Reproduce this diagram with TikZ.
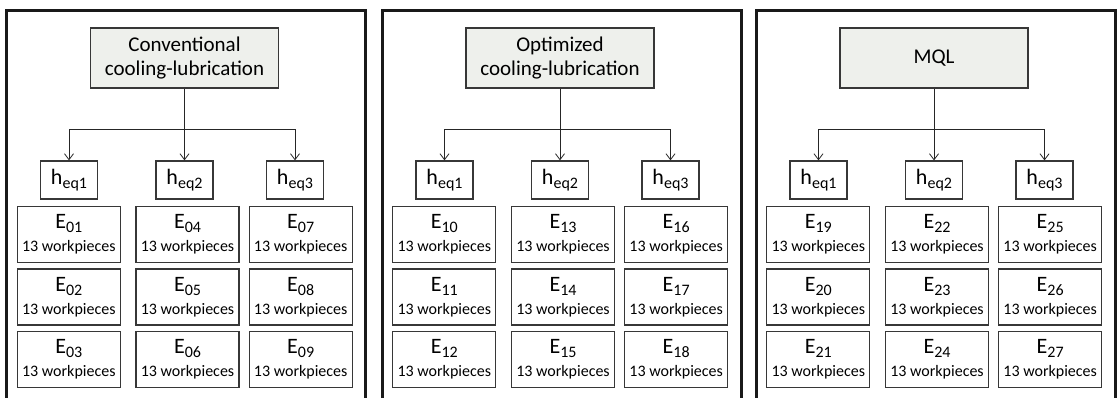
\documentclass[tikz,border=0pt]{standalone}
\usepackage{fontspec}
\setmainfont{Carlito}
\usetikzlibrary{arrows.meta,positioning}
\definecolor{titlefill}{RGB}{238,240,236}
\definecolor{boxline}{RGB}{55,55,55}

\begin{document}
\begin{tikzpicture}[x=1pt,y=-1pt,
  frame/.style={draw=black!90,line width=3pt},
  titlebox/.style={draw=boxline,line width=1.2pt,fill=titlefill,minimum width=188pt,minimum height=60pt,align=center,inner sep=0pt,font=\fontsize{21}{24}\selectfont},
  hbox/.style={draw=boxline,line width=1.2pt,minimum width=57pt,minimum height=38pt,inner sep=0pt,font=\fontsize{22}{24}\selectfont},
  ebox/.style={draw=boxline,line width=1.2pt,minimum width=103pt,minimum height=56pt,align=center,inner sep=0pt,font=\fontsize{16}{23}\selectfont},
  link/.style={draw=black!85,line width=0.8pt,-{Straight Barb[length=6pt,width=9pt]}}]

\newcommand{\mysub}[1]{\raisebox{-4pt}{\fontsize{16}{16}\selectfont #1}}
\newcommand{\mypanel}[4]{% nom, x gauche, titre, premier essai
%frame
\draw[frame] (#2,10.5) rectangle (#2+359,420);
%title
\node[titlebox] (#1t) at (#2+178,58) {#3};
%h boxes
\node[hbox] (#1h1) at (#2+62.5,180) {h\mysub{eq1}};
\node[hbox] (#1h2) at (#2+178,180) {h\mysub{eq2}};
\node[hbox] (#1h3) at (#2+288.5,180) {h\mysub{eq3}};
\coordinate (#1s) at (#2+178,129.5);
%arrows
\draw[link] (#1t) -- (#1h2);
\draw[link] (#1s) -| (#1h1);
\draw[link] (#1s) -| (#1h3);
%experiments
\foreach \c/\ex in {0/62.3,1/181,2/294.2} {
  \foreach \r/\ey in {0/234.5,1/297,2/359.5} {
    \pgfmathtruncatemacro{\n}{#4+3*\c+\r}
    \node[ebox] (#1e\n) at (#2+\ex,\ey) {{\fontsize{22}{23}\selectfont E}\mysub{\ifnum\n<10 0\fi\n}\\13 workpieces};
  }
}
}

\clip (0,0) rectangle (1117,397);

%conventional
\mypanel{conv}{6.5}{Conventional\\cooling-lubrication}{1}
%optimized
\mypanel{opt}{382}{Optimized\\cooling-lubrication}{10}
%mql
\mypanel{mql}{756}{MQL}{19}

\end{tikzpicture}
\end{document}
